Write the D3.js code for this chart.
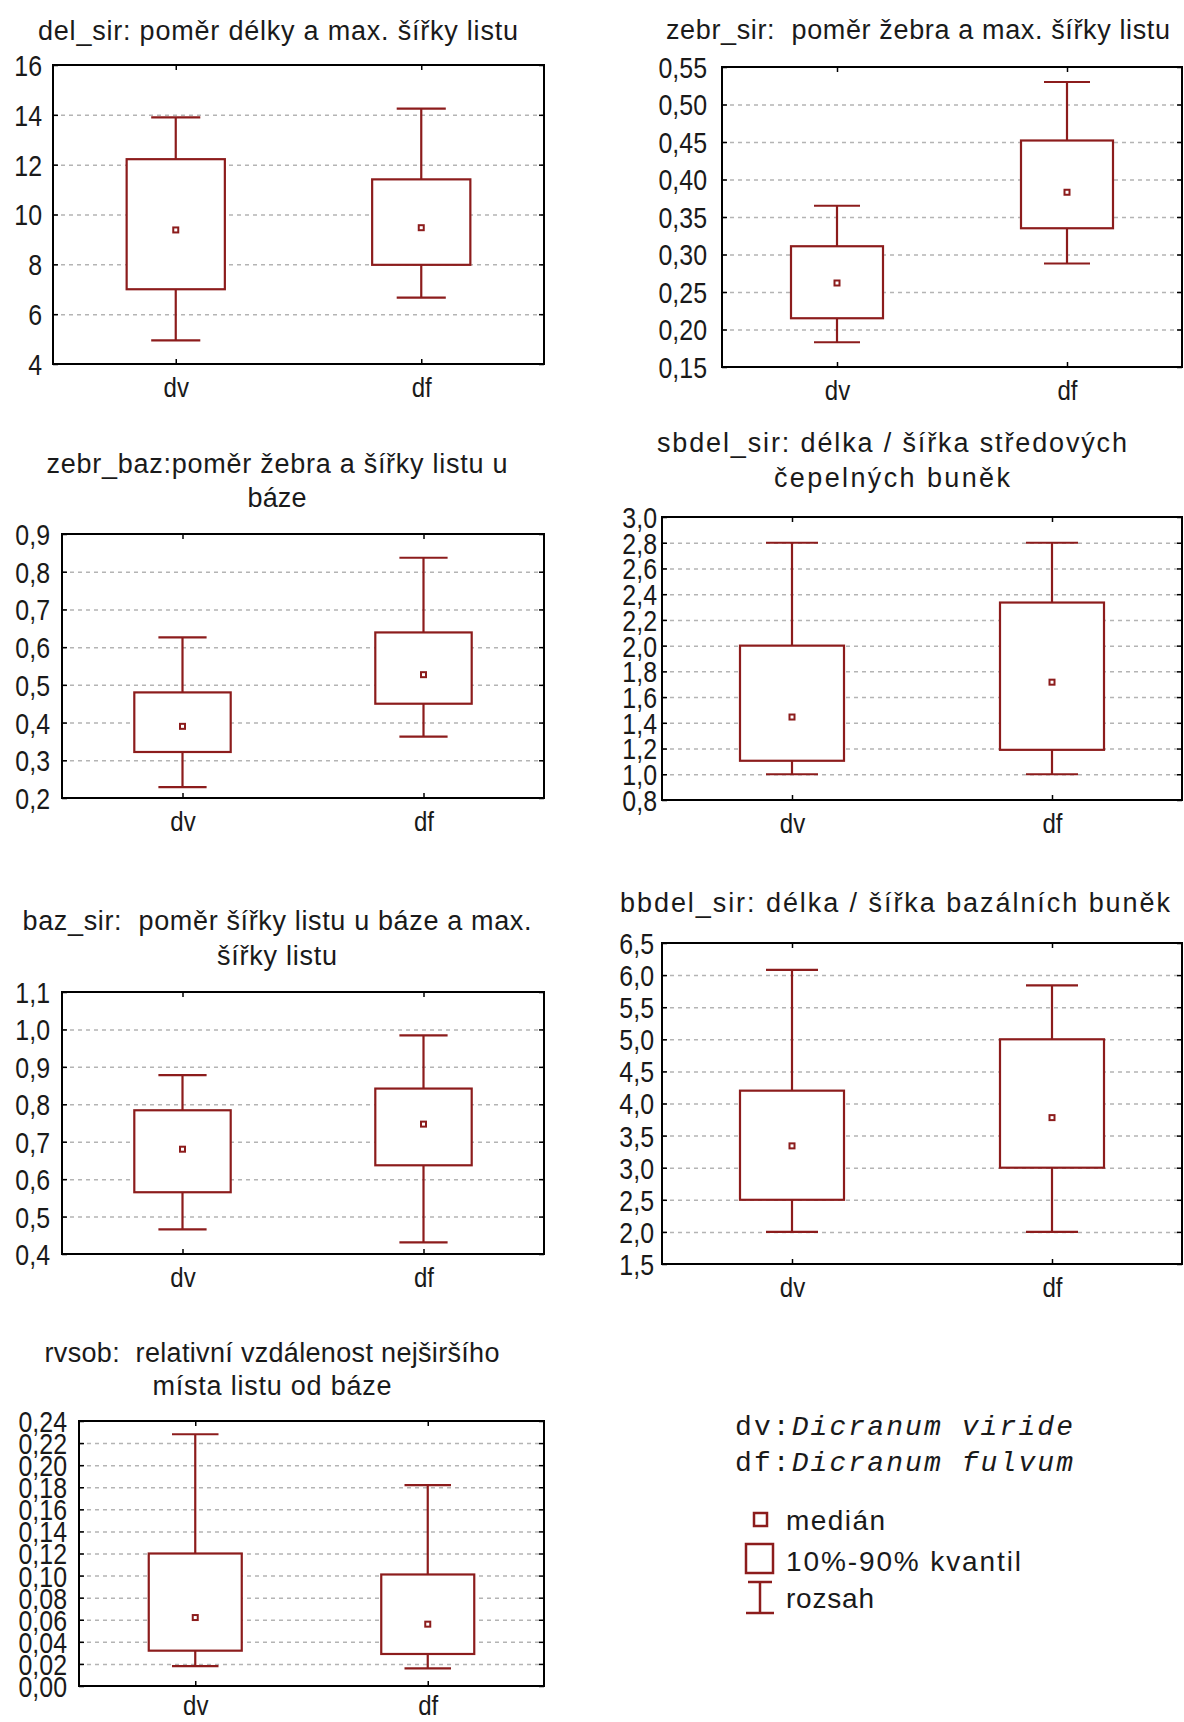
<!DOCTYPE html>
<html lang="cs">
<head>
<meta charset="utf-8">
<title>Dicranum viride / D. fulvum - krabicové grafy</title>
<script src="https://cdn.jsdelivr.net/npm/d3@7"></script>
<style>
  body { margin: 0; background: #fff; }
  svg text { font-family: "Liberation Sans", Arial, sans-serif; fill: #1a1a1a; white-space: pre; }
  .grid line { stroke: #b4b4b4; stroke-width: 1.5; stroke-dasharray: 4,4; }
  .tk line { stroke: #000; stroke-width: 1.5; }
  .mark { stroke: #8c1c1c; stroke-width: 2.2; fill: none; }
</style>
</head>
<body>
<script>

// groups on the x axis
var groups = ["dv", "df"];

// panel titles (line by line)
var titleLines = [
  ["del_sir: poměr délky a max. šířky listu"],
  ["zebr_sir:  poměr žebra a max. šířky listu"],
  ["zebr_baz:poměr žebra a šířky listu u", "báze"],
  ["sbdel_sir: délka / šířka středových", "čepelných buněk"],
  ["baz_sir:  poměr šířky listu u báze a max.", "šířky listu"],
  ["bbdel_sir: délka / šířka bazálních buněk"],
  ["rvsob:  relativní vzdálenost nejširšího", "místa listu od báze"]
];

// statistics per panel: [dv, df]
var minVals = [[4.95, 6.66], [0.183, 0.288], [0.229, 0.363], [1.0, 1.0], [0.466, 0.431], [2.0, 2.0], [0.018, 0.016]];
var q10Vals = [[7.0, 7.98], [0.215, 0.335], [0.322, 0.450], [1.105, 1.19], [0.565, 0.637], [2.5, 3.0], [0.032, 0.029]];
var medVals = [[9.38, 9.47], [0.262, 0.383], [0.390, 0.527], [1.445, 1.716], [0.680, 0.747], [3.34, 3.78], [0.062, 0.056]];
var q90Vals = [[12.22, 11.41], [0.311, 0.452], [0.480, 0.639], [2.0, 2.335], [0.784, 0.842], [4.2, 5.0], [0.120, 0.101]];
var maxVals = [[13.9, 14.25], [0.365, 0.530], [0.626, 0.837], [2.8, 2.8], [0.878, 0.984], [6.08, 5.84], [0.228, 0.182]];

// y tick values per panel
var yTicks = [
  [4, 6, 8, 10, 12, 14, 16],
  [0.15, 0.20, 0.25, 0.30, 0.35, 0.40, 0.45, 0.50, 0.55],
  [0.2, 0.3, 0.4, 0.5, 0.6, 0.7, 0.8, 0.9],
  [0.8, 1.0, 1.2, 1.4, 1.6, 1.8, 2.0, 2.2, 2.4, 2.6, 2.8, 3.0],
  [0.4, 0.5, 0.6, 0.7, 0.8, 0.9, 1.0, 1.1],
  [1.5, 2.0, 2.5, 3.0, 3.5, 4.0, 4.5, 5.0, 5.5, 6.0, 6.5],
  [0, 0.02, 0.04, 0.06, 0.08, 0.10, 0.12, 0.14, 0.16, 0.18, 0.20, 0.22, 0.24]
];
var yDecimals = [0, 2, 1, 1, 1, 1, 2];

// legend texts
var speciesCodes = ["dv:", "df:"];
var speciesNames = ["Dicranum viride", "Dicranum fulvum"];
var legendLabels = ["medián", "10%-90% kvantil", "rozsah"];

// frame of each panel on the page
var layout = [
  {left: 53,  right: 544,  top: 65,  bottom: 364,  tx: 278, ty: [40],         tl: [480],      gap: 11, xpad: 13},
  {left: 722, right: 1182, top: 67,  bottom: 367,  tx: 918, ty: [39],         tl: [504],      gap: 15, xpad: 13},
  {left: 62,  right: 544,  top: 534, bottom: 798,  tx: 277, ty: [473, 507],   tl: [461, 59],  gap: 12, xpad: 13},
  {left: 662, right: 1182, top: 517, bottom: 800,  tx: 892, ty: [452, 487],   tl: [470, 236], gap: 5,  xpad: 13},
  {left: 62,  right: 544,  top: 992, bottom: 1254, tx: 277, ty: [930, 965],   tl: [509, 120], gap: 12, xpad: 13},
  {left: 662, right: 1182, top: 943, bottom: 1264, tx: 895, ty: [912],        tl: [550],      gap: 8,  xpad: 13},
  {left: 79,  right: 544,  top: 1421, bottom: 1686, tx: 272, ty: [1362, 1395], tl: [455, 239], gap: 12, xpad: 9}
];

var squeeze = 0.86;   // tick labels are narrow in the original

var svg = d3.select("body").append("svg")
  .attr("width", 1184)
  .attr("height", 1722)
  .style("display", "block");

svg.append("rect").attr("width", 1184).attr("height", 1722).attr("fill", "#fff");

layout.forEach(function(L, i) {
  var g = svg.append("g");
  var W = L.right - L.left;
  var y = d3.scaleLinear().domain([yTicks[i][0], yTicks[i][yTicks[i].length - 1]]).range([L.bottom, L.top]);
  var x = d3.scalePoint().domain(groups).range([L.left, L.right]).padding(0.5);
  var fmt = function(d) { return d.toFixed(yDecimals[i]).replace(".", ","); };

  // title
  titleLines[i].forEach(function(line, k) {
    g.append("text")
      .attr("x", L.tx)
      .attr("y", L.ty[k])
      .attr("text-anchor", "middle")
      .attr("font-size", 27)
      .attr("textLength", L.tl[k])
      .attr("lengthAdjust", "spacing")
      .text(line);
  });

  // gridlines
  g.append("g").attr("class", "grid")
    .attr("transform", "translate(" + L.left + ",0)")
    .call(d3.axisLeft(y).tickValues(yTicks[i].slice(1, -1)).tickSize(-W).tickFormat(""))
    .call(function(s) { s.select(".domain").remove(); });

  // boxes
  groups.forEach(function(grp, j) {
    var cx = x(grp);
    var bw = W * 0.2, cw = W * 0.1;
    var b = g.append("g");
    b.append("line").attr("class", "mark")
      .attr("x1", cx).attr("x2", cx)
      .attr("y1", y(maxVals[i][j])).attr("y2", y(q90Vals[i][j]));
    b.append("line").attr("class", "mark")
      .attr("x1", cx).attr("x2", cx)
      .attr("y1", y(q10Vals[i][j])).attr("y2", y(minVals[i][j]));
    b.append("line").attr("class", "mark")
      .attr("x1", cx - cw / 2).attr("x2", cx + cw / 2)
      .attr("y1", y(maxVals[i][j])).attr("y2", y(maxVals[i][j]));
    b.append("line").attr("class", "mark")
      .attr("x1", cx - cw / 2).attr("x2", cx + cw / 2)
      .attr("y1", y(minVals[i][j])).attr("y2", y(minVals[i][j]));
    b.append("rect").attr("class", "mark")
      .attr("x", cx - bw / 2)
      .attr("y", y(q90Vals[i][j]))
      .attr("width", bw)
      .attr("height", y(q10Vals[i][j]) - y(q90Vals[i][j]))
      .style("fill", "#fff");
    b.append("rect").attr("class", "mark")
      .attr("x", cx - 2.5).attr("y", y(medVals[i][j]) - 2.5)
      .attr("width", 5).attr("height", 5)
      .style("stroke-width", 2);
  });

  // frame
  g.append("rect")
    .attr("x", L.left).attr("y", L.top)
    .attr("width", W).attr("height", L.bottom - L.top)
    .attr("fill", "none").attr("stroke", "#000").attr("stroke-width", 2);

  // axes
  var left = g.append("g").attr("class", "tk")
    .attr("transform", "translate(" + L.left + ",0)")
    .call(d3.axisLeft(y).tickValues(yTicks[i]).tickSize(-5).tickPadding(L.gap).tickFormat(fmt));
  left.select(".domain").remove();
  left.attr("font-size", 29).attr("font-family", null);
  left.selectAll("text")
    .attr("dy", "0.36em")
    .attr("x", -L.gap / squeeze)
    .attr("transform", "scale(" + squeeze + ",1)");

  var right = g.append("g").attr("class", "tk")
    .attr("transform", "translate(" + L.right + ",0)")
    .call(d3.axisRight(y).tickValues(yTicks[i]).tickSize(-5).tickFormat(""));
  right.select(".domain").remove();

  var bottom = g.append("g").attr("class", "tk")
    .attr("transform", "translate(0," + L.bottom + ")")
    .call(d3.axisBottom(x).tickSize(-5).tickPadding(L.xpad));
  bottom.select(".domain").remove();
  bottom.attr("font-size", 28).attr("font-family", null);
  bottom.selectAll("text")
    .attr("x", 0)
    .attr("transform", "scale(" + squeeze + ",1)");

  var top = g.append("g").attr("class", "tk")
    .attr("transform", "translate(0," + L.top + ")")
    .call(d3.axisTop(x).tickSize(-5).tickFormat(""));
  top.select(".domain").remove();
});

// legend: species codes
var leg = svg.append("g");
speciesCodes.forEach(function(code, k) {
  var t = leg.append("text")
    .attr("x", 735)
    .attr("y", 1435 + k * 36)
    .attr("font-size", 28)
    .attr("textLength", 338)
    .attr("lengthAdjust", "spacing")
    .style("font-family", "'Courier New', 'Liberation Mono', monospace");
  t.append("tspan").text(code);
  t.append("tspan").attr("font-style", "italic").text(speciesNames[k]);
});

// legend: symbols
var red = "#8c1c1c";
leg.append("rect").attr("x", 754).attr("y", 1513).attr("width", 13).attr("height", 13)
  .attr("fill", "none").attr("stroke", red).attr("stroke-width", 2.5);
leg.append("rect").attr("x", 746).attr("y", 1544).attr("width", 27).attr("height", 29)
  .attr("fill", "none").attr("stroke", red).attr("stroke-width", 2.5);
leg.append("line").attr("x1", 748).attr("x2", 772).attr("y1", 1582).attr("y2", 1582)
  .attr("stroke", red).attr("stroke-width", 2.5);
leg.append("line").attr("x1", 760).attr("x2", 760).attr("y1", 1582).attr("y2", 1613)
  .attr("stroke", red).attr("stroke-width", 2.5);
leg.append("line").attr("x1", 746).attr("x2", 774).attr("y1", 1613).attr("y2", 1613)
  .attr("stroke", red).attr("stroke-width", 2.5);

var legY = [1530, 1571, 1608];
var legLen = [99, 235, 88];
legendLabels.forEach(function(lbl, k) {
  leg.append("text")
    .attr("x", 786)
    .attr("y", legY[k])
    .attr("font-size", 28)
    .attr("textLength", legLen[k])
    .attr("lengthAdjust", "spacing")
    .text(lbl);
});

</script>
</body>
</html>
